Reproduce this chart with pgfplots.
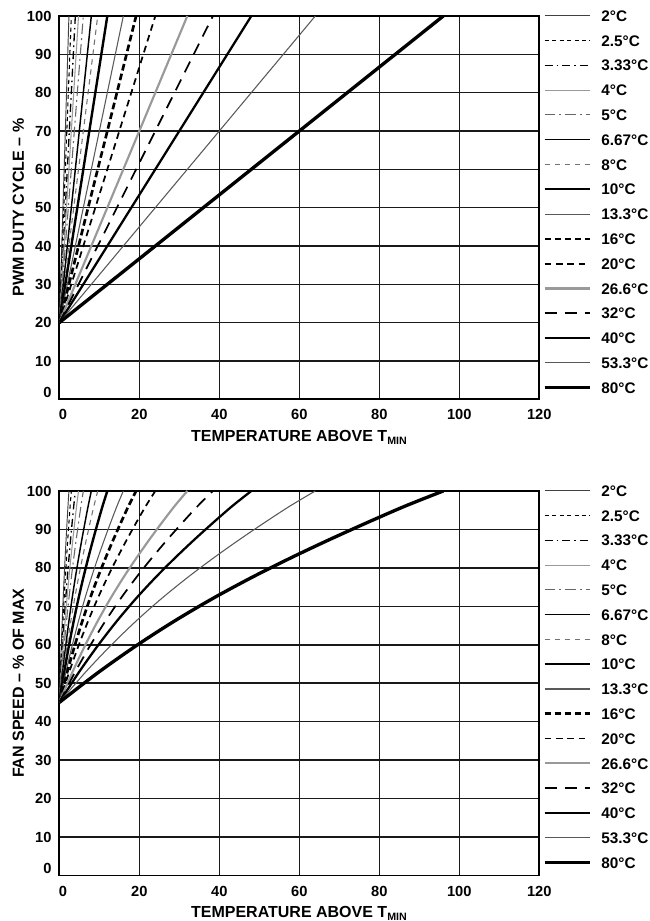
\documentclass[border=0pt]{standalone}
\usepackage{pgfplots}
\pgfplotsset{compat=1.18}
\usepackage{pgfplotstable}
\usepackage{fontspec}
\setmainfont{Liberation Sans}

\pgfplotstableread{
v     e2   e25  e333 e4   e5   e667 e8   e10  e133 e16   e20  e266 e32   e40  e533 e80
45    0    0    0    0    0    0    0    0    0    0     0    0    0     0    0    0
52.7  0.24 0.3  0.4  0.48 0.6  0.8  0.96 1.2  1.6  1.92  2.4  3.2  3.84  4.8  6.4  9.6
59.74 0.48 0.6  0.8  0.96 1.2  1.6  1.92 2.4  3.2  3.84  4.8  6.4  7.68  9.6  12.8 19.2
66.18 0.72 0.9  1.2  1.44 1.8  2.4  2.88 3.6  4.8  5.76  7.2  9.6  11.52 14.4 19.2 28.8
72.06 0.96 1.2  1.6  1.92 2.4  3.2  3.84 4.8  6.4  7.68  9.6  12.8 15.36 19.2 25.6 38.4
77.45 1.2  1.5  2.0  2.4  3.0  4.0  4.8  6.0  8.0  9.6   12.0 16.0 19.2  24.0 32.0 48.0
82.46 1.44 1.8  2.4  2.88 3.6  4.8  5.76 7.2  9.6  11.52 14.4 19.2 23.04 28.8 38.4 57.6
87.19 1.68 2.1  2.8  3.36 4.2  5.6  6.72 8.4  11.2 13.44 16.8 22.4 26.88 33.6 44.8 67.2
91.7  1.92 2.4  3.2  3.84 4.8  6.4  7.68 9.6  12.8 15.36 19.2 25.6 30.72 38.4 51.2 76.8
96.04 2.16 2.7  3.6  4.32 5.4  7.2  8.64 10.8 14.4 17.28 21.6 28.8 34.56 43.2 57.6 86.4
100   2.4  3.0  4.0  4.8  6.0  8.0  9.6  12.0 16.0 19.2  24.0 32.0 38.4  48.0 64.0 96.0
}\fan

\pgfplotsset{
  s2/.style={black!75, line width=0.7pt},
  s25/.style={black, line width=0.8pt, dash pattern=on 3pt off 2.6pt},
  s333/.style={black, line width=1pt, dash pattern=on 6pt off 3pt on 1.2pt off 3pt},
  s4/.style={black!40, line width=0.8pt},
  s5/.style={black!60, line width=0.8pt, dash pattern=on 8pt off 3pt on 1.5pt off 3pt},
  s667/.style={black, line width=1.1pt},
  s8/.style={black!55, line width=0.8pt, dash pattern=on 4pt off 3.5pt},
  s10/.style={black, line width=1.8pt},
  s133/.style={black!65, line width=0.8pt},
  s16/.style={black, line width=2pt, dash pattern=on 5pt off 2.5pt},
  s20/.style={black, line width=1.3pt, dash pattern=on 5pt off 3.5pt},
  s266/.style={black!40, line width=1.6pt},
  s32/.style={black, line width=1.3pt, dash pattern=on 9pt off 6pt},
  s40/.style={black, line width=1.7pt},
  s533/.style={black!65, line width=0.8pt},
  s80/.style={black, line width=2.5pt},
  myaxis/.style={
    scale only axis,
    width=360pt,
    xmin=0, xmax=120, ymin=0, ymax=100,
    xtick={0,20,40,60,80,100,120},
    xticklabels={\hspace*{5.6pt}0,20,40,60,80,100,120},
    ytick={0,10,20,30,40,50,60,70,80,90,100},
    yticklabels={\raisebox{10.5pt}{0},10,20,30,40,50,60,70,80,90,100},
    major tick length=0pt,
    grid=major,
    grid style={black!90, line width=1.15pt},
    axis line style={black, line width=1.4pt},
    /pgf/number format/assume math mode=true,
    tick label style={font=\fontsize{11}{12}\selectfont\bfseries},
    xticklabel style={anchor=base, yshift=-15.5pt},
    yticklabel style={anchor=east, inner sep=0pt, xshift=-5.7pt},
    label style={font=\fontsize{12}{14}\selectfont\bfseries},
    xlabel={TEMPERATURE ABOVE T\textsubscript{MIN}},
    xlabel style={at={(axis description cs:0.5,0)}, anchor=base, yshift=-31.8pt},
    ylabel style={at={(axis description cs:-0.0854,0.5)}, anchor=center},
    legend cell align=left,
    legend image code/.code={\draw[##1] (0pt,0pt) -- (33.75pt,0pt);},
    legend style={draw=none, fill=none, at={(1,1)}, anchor=north west,
      inner sep=0pt, outer sep=0pt, xshift=2.8pt, yshift=4.5pt, row sep=10.1pt,
      column sep=7.5pt,
      font=\fontsize{11.5}{12}\selectfont\bfseries,
      nodes={inner sep=0pt, text height=8.5pt, text depth=0pt}},
  }
}

\begin{document}
\begin{tikzpicture}
\path[use as bounding box] (-44.5pt,-391.3pt) rectangle (442.3pt,299.5pt);

\begin{axis}[myaxis, at={(0,0)}, anchor=south west, height=287.5pt,
  ylabel={PWM DUTY CYCLE – \%}]
\addplot[s2]   coordinates {(0,20) (2.4,100)};
\addplot[s25]  coordinates {(0,20) (3,100)};
\addplot[s333] coordinates {(0,20) (4,100)};
\addplot[s4]   coordinates {(0,20) (4.8,100)};
\addplot[s5]   coordinates {(0,20) (6,100)};
\addplot[s667] coordinates {(0,20) (8,100)};
\addplot[s8]   coordinates {(0,20) (9.6,100)};
\addplot[s10]  coordinates {(0,20) (12,100)};
\addplot[s133] coordinates {(0,20) (16,100)};
\addplot[s16]  coordinates {(0,20) (19.2,100)};
\addplot[s20]  coordinates {(0,20) (24,100)};
\addplot[s266] coordinates {(0,20) (32,100)};
\addplot[s32]  coordinates {(0,20) (38.4,100)};
\addplot[s40]  coordinates {(0,20) (48,100)};
\addplot[s533] coordinates {(0,20) (64,100)};
\addplot[s80]  coordinates {(0,20) (96,100)};
\legend{2°C,2.5°C,3.33°C,4°C,5°C,6.67°C,8°C,10°C,13.3°C,16°C,20°C,26.6°C,32°C,40°C,53.3°C,80°C}
\end{axis}

\begin{axis}[myaxis, at={(0,-357.15pt)}, anchor=south west, height=288.4pt,
  ylabel={FAN SPEED – \% OF MAX}]
\addplot[s2, smooth]   table[x=e2, y=v] {\fan};
\addplot[s25, smooth]  table[x=e25, y=v] {\fan};
\addplot[s333, smooth] table[x=e333, y=v] {\fan};
\addplot[s4, smooth]   table[x=e4, y=v] {\fan};
\addplot[s5, smooth]   table[x=e5, y=v] {\fan};
\addplot[s667, smooth] table[x=e667, y=v] {\fan};
\addplot[s8, smooth]   table[x=e8, y=v] {\fan};
\addplot[s10, smooth]  table[x=e10, y=v] {\fan};
\addplot[s133, smooth] table[x=e133, y=v] {\fan};
\addplot[s16, smooth]  table[x=e16, y=v] {\fan};
\addplot[s20, smooth]  table[x=e20, y=v] {\fan};
\addplot[s266, smooth] table[x=e266, y=v] {\fan};
\addplot[s32, smooth]  table[x=e32, y=v] {\fan};
\addplot[s40, smooth]  table[x=e40, y=v] {\fan};
\addplot[s533, smooth] table[x=e533, y=v] {\fan};
\addplot[s80, smooth]  table[x=e80, y=v] {\fan};
\legend{2°C,2.5°C,3.33°C,4°C,5°C,6.67°C,8°C,10°C,13.3°C,16°C,20°C,26.6°C,32°C,40°C,53.3°C,80°C}
\end{axis}
\end{tikzpicture}
\end{document}
